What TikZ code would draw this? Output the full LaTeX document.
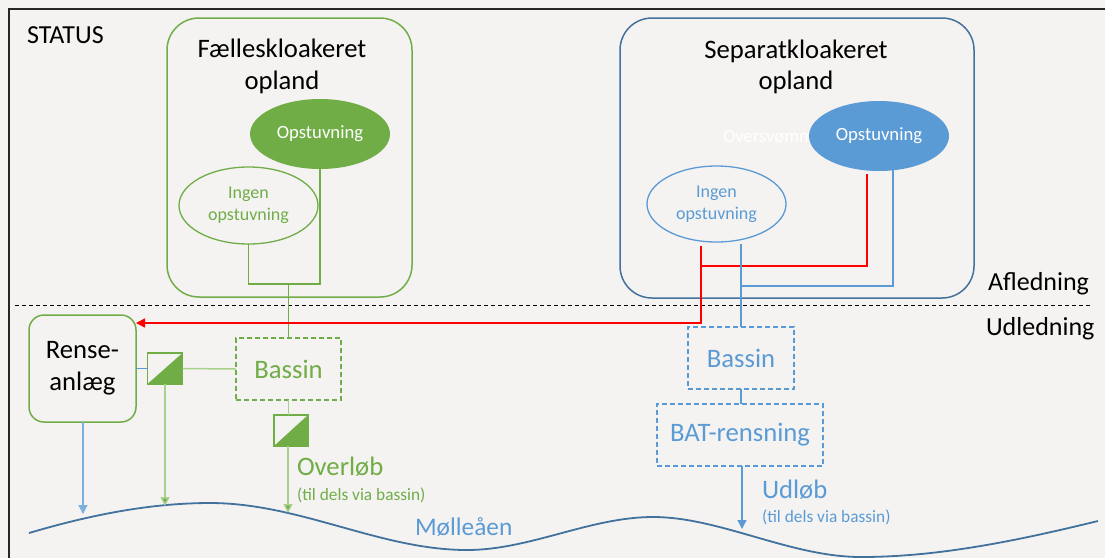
\documentclass[tikz,border=0pt]{standalone}
\usepackage{fontspec}
\setmainfont{Carlito}
\usetikzlibrary{arrows.meta,shapes.geometric,calc}
\newcommand\pxu[1]{#1*0.75pt}
\definecolor{cbg}{HTML}{F4F3F1}
\definecolor{cframe}{HTML}{262626}
\definecolor{cgreen}{HTML}{70AD47}
\definecolor{clgreen}{HTML}{A9D18E}
\definecolor{cblue}{HTML}{5B9BD5}
\definecolor{cdkblue}{HTML}{41719C}
\definecolor{cred}{HTML}{FF0000}
\begin{document}
\begin{tikzpicture}[x=0.75pt,y=-0.75pt,
  every node/.style={inner sep=0pt,outer sep=0pt},
  region/.style={draw,rounded corners=\pxu{32},line width=\pxu{1.5}},
  titletxt/.style={anchor=base,font=\fontsize{20}{24}\selectfont},
  sidetxt/.style={anchor=base west,font=\fontsize{19.5}{23}\selectfont},
  fillell/.style={ellipse,minimum width=\pxu{140},minimum height=\pxu{70},text=white,font=\fontsize{14}{17}\selectfont},
  lineell/.style={ellipse,line width=\pxu{1.3},minimum width=\pxu{139},minimum height=\pxu{77},align=center,font=\fontsize{13.5}{16.5}\selectfont},
  dashbox/.style={line width=\pxu{1.5},dash pattern=on \pxu{5} off \pxu{3},minimum height=\pxu{62},font=\fontsize{20}{24}\selectfont},
  switchbox/.style={draw=cgreen,line width=\pxu{1.5},minimum width=\pxu{35},minimum height=\pxu{31},
    path picture={\fill[cgreen] (path picture bounding box.south west) -- (path picture bounding box.south east) -- (path picture bounding box.north east) -- cycle;}},
  gline/.style={draw=cgreen,line width=\pxu{1.3}},
  lgline/.style={draw=clgreen,line width=\pxu{1.5}},
  bline/.style={draw=cblue,line width=\pxu{1.3}},
  rline/.style={draw=cred,line width=\pxu{1.5}},
  tip/.style={-{Triangle[length=\pxu{9},width=\pxu{9}]}},
  gtip/.style={-{Triangle[length=\pxu{9},width=\pxu{9},fill=cgreen]}},
  bigtxt/.style={anchor=base west,font=\fontsize{20}{24}\selectfont},
  smalltxt/.style={anchor=base west,font=\fontsize{13}{15}\selectfont},
]
\fill[cbg] (0,0) rectangle (1105,558);
\useasboundingbox (0,0) rectangle (1105,558);
\draw[cframe,line width=\pxu{2}] (9,558) -- (9,9) -- (1105,9);

% labels
\node[sidetxt] (status) at (27,43) {STATUS};
\node[sidetxt] (afl) at (988,290) {Afledning};
\node[sidetxt] (udl) at (986,335) {Udledning};

% separator
\coordinate (dl) at (15,305);
\coordinate (dr) at (1090,305);
\draw[black,line width=\pxu{1},dash pattern=on \pxu{4} off \pxu{3}] (dl) -- (dr);

% Faelles region
\node[region,draw=cgreen,minimum width=\pxu{245},minimum height=\pxu{279}] (fbox) at (289.5,157.5) {};
\node[titletxt] (ft1) at (282,57) {Fælleskloakeret};
\node[titletxt] (ft2) at (282,89) {opland};
\node[fillell,fill=cgreen] (fopst) at (320,134) {Opstuvning};
\node[lineell,draw=cgreen,text=cgreen] (fingen) at (248.5,205.5) {Ingen\\opstuvning};

% Separat region
\node[region,draw=cdkblue,minimum width=\pxu{354},minimum height=\pxu{280}] (sbox) at (797,158) {};
\node[titletxt] (st1) at (796,58) {Separatkloakeret};
\node[titletxt] (st2) at (796,89) {opland};
\node[anchor=base west,text=white,font=\fontsize{14}{17}\selectfont] (overs) at (723,142) {Oversvømm};
\node[fillell,fill=cblue] (sopst) at (879,136) {Opstuvning};
\node[lineell,draw=cblue,text=cblue,minimum height=\pxu{76}] (singen) at (716.5,204) {Ingen\\opstuvning};

% lower nodes
\node[draw=cgreen,rounded corners=\pxu{15},line width=\pxu{1.5},minimum width=\pxu{107},minimum height=\pxu{107},align=center,font=\fontsize{20}{24}\selectfont] (rense) at (82.5,368.5) {Rense-\\anlæg};
\node[dashbox,draw=cgreen,text=cgreen,minimum width=\pxu{105}] (fbassin) at (288.5,369) {Bassin};
\node[switchbox] (sw1) at (165,368.5) {};
\node[switchbox,minimum width=\pxu{34}] (sw2) at (291,430.5) {};
\node[dashbox,draw=cblue,text=cblue,minimum width=\pxu{106}] (sbassin) at (741,358) {Bassin};
\node[dashbox,draw=cblue,text=cblue,minimum width=\pxu{166}] (bat) at (740,435) {BAT-rensning};

% texts lower
\node[bigtxt,text=cgreen] (overlob) at (297,475) {Overløb};
\node[smalltxt,text=cgreen] (overlob2) at (297,500) {(til dels via bassin)};
\node[bigtxt,text=cblue] (udlob) at (762,498) {Udløb};
\node[smalltxt,text=cblue] (udlob2) at (762,522) {(til dels via bassin)};
\node[anchor=base west,text=cblue,font=\fontsize{19}{22}\selectfont] (molle) at (415,535) {Mølleåen};

% river
\draw[cdkblue,line width=\pxu{1.8}] (29,533) .. controls (90,515) and (150,503) .. (210,503)
  .. controls (300,503) and (380,550) .. (467,550)
  .. controls (530,550) and (590,517) .. (653,517)
  .. controls (720,517) and (790,557) .. (861,557)
  .. controls (940,557) and (1020,540) .. (1098,521);

% Faelles connectors
\coordinate (fjoin) at (288.5,284);
\draw[gline] (fingen.south) |- (fjoin) -| (fopst.south);
\draw[gline] (fjoin) -- (fbassin.north);
\draw[bline] (rense.east) -- (sw1.west);
\draw[lgline] (sw1.east) -- (fbassin.west);
\draw[lgline] (fbassin.south) -- (fbassin.south |- sw2.north);
\coordinate (r1) at (83,514);
\coordinate (r2) at (165,506);
\coordinate (r3) at (288,513);
\coordinate (r4) at (742,529);
\draw[bline,tip,draw=cblue!80] (rense.south -| r1) -- (r1);
\draw[lgline,gtip] (sw1.south -| r2) -- (r2);
\draw[lgline,gtip] (sw2.south -| r3) -- (r3);

% Separat connectors
\coordinate (rA) at (701,246);
\coordinate (rB) at (701,323);
\coordinate (rC) at (867,174);
\coordinate (rD) at (701,266);
\draw[rline,tip] (rA) -- (rB) -- (rB -| rense.east);
\draw[rline] (rC) |- (rD);
\coordinate (bA) at (741,244);
\coordinate (bB) at (893,170);
\coordinate (bC) at (741,286);
\draw[bline] (bA) -- (sbassin.north);
\draw[bline] (bB) |- (bC);
\draw[bline] (sbassin.south) -- (sbassin.south |- bat.north);
\draw[bline,tip] (bat.south -| r4) -- (r4);
\end{tikzpicture}
\end{document}
